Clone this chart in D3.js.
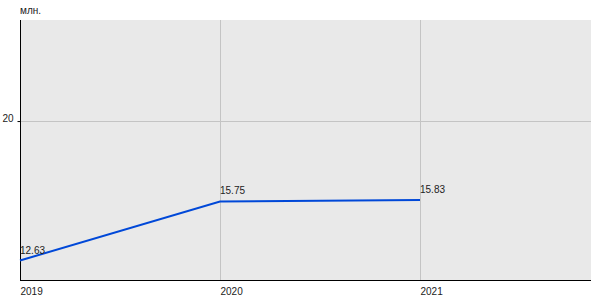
<!DOCTYPE html>
<html><head><meta charset="utf-8">
<script src="https://cdn.jsdelivr.net/npm/d3@7"></script>
<style>body{margin:0;background:#fff}svg{display:block}text{font-family:Arial,"Liberation Sans",sans-serif;font-size:10px;fill:#222}</style>
</head><body><svg id="c" width="600" height="300"></svg>
<script>
const years = [2019, 2020, 2021];
const values = [12.63, 15.75, 15.83];
const xTicks = [2019, 2020, 2021];
const yTicks = [20];
const unitLabel = "млн.";

const svg = d3.select("#c");
const L = 20, R = 591, T = 20, B = 280;
const x = d3.scaleLinear().domain([2019, 2021.855]).range([L, R]);
const y = d3.scaleLinear().domain([11.6, 25.34]).range([B, T]);

svg.append("rect").attr("x", L).attr("y", T).attr("width", R - L).attr("height", B - T).attr("fill", "#e9e9e9");

// grid
svg.selectAll(".vg").data(xTicks.slice(1)).enter().append("line")
  .attr("x1", d => Math.round(x(d)) + 0.5).attr("x2", d => Math.round(x(d)) + 0.5)
  .attr("y1", T).attr("y2", B).attr("stroke", "#c4c4c4").attr("stroke-width", 1);
svg.selectAll(".hg").data(yTicks).enter().append("line")
  .attr("x1", L).attr("x2", R)
  .attr("y1", d => Math.round(y(d)) + 0.5).attr("y2", d => Math.round(y(d)) + 0.5)
  .attr("stroke", "#c4c4c4").attr("stroke-width", 1);

// axes
const yAxis = d3.axisLeft(y).tickValues(yTicks).tickSize(3).tickPadding(4).tickFormat(d3.format("d"));
const gy = svg.append("g").attr("transform", `translate(${L + 0.5},0)`).call(yAxis);
gy.select(".domain").remove();
gy.selectAll("line").attr("stroke", "#000");
gy.selectAll("text").attr("fill", "#222").style("font-size", "10px").style("font-family", "Arial,'Liberation Sans',sans-serif").attr("dy", "0");

svg.append("line").attr("x1", L + 0.5).attr("x2", L + 0.5).attr("y1", T).attr("y2", B).attr("stroke", "#000");
svg.append("line").attr("x1", L).attr("x2", R).attr("y1", B + 0.5).attr("y2", B + 0.5).attr("stroke", "#000");

const xAxis = d3.axisBottom(x).tickValues(xTicks).tickSize(0).tickPadding(0).tickFormat(d3.format("d"));
const gx = svg.append("g").attr("transform", `translate(0,${B})`).call(xAxis);
gx.select(".domain").remove();
gx.selectAll("text").attr("text-anchor", "start").attr("y", 15).attr("dy", "0")
  .attr("fill", "#222").style("font-size", "10px").style("font-family", "Arial,'Liberation Sans',sans-serif");

svg.append("text").attr("x", L).attr("y", 14).text(unitLabel);

// line
const pts = years.map((yr, i) => ({ yr, v: values[i] }));
svg.append("path").datum(pts)
  .attr("d", d3.line().x(d => x(d.yr)).y(d => y(d.v)))
  .attr("fill", "none").attr("stroke", "#0048d8").attr("stroke-width", 2);

svg.selectAll(".lbl").data(pts).enter().append("text")
  .attr("x", d => x(d.yr)).attr("y", d => y(d.v) - 7)
  .text(d => d3.format(".2f")(d.v));
</script></body></html>
